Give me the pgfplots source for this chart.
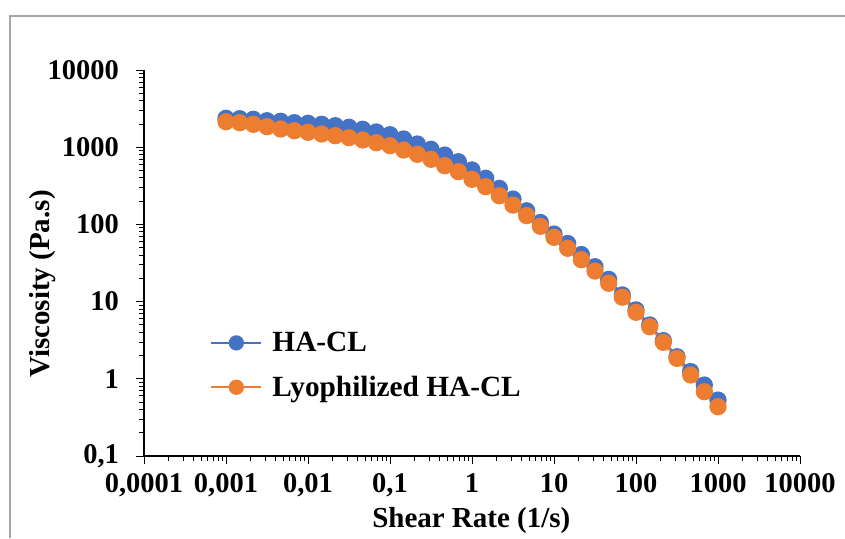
\documentclass[border=0pt]{standalone}
\usepackage{fontspec}
\setmainfont{Liberation Serif}
\usepackage{pgfplots}
\pgfplotsset{compat=1.18}
\definecolor{hablue}{HTML}{4472C4}
\definecolor{lyoorange}{HTML}{ED7D31}
\definecolor{framegray}{HTML}{A6A6A6}

\begin{document}
\begin{tikzpicture}
\begin{axis}[
  at={(144pt,82pt)}, anchor=south west,
  scale only axis, width=656pt, height=386pt,
  xmode=log, ymode=log,
  xmin=1e-4, xmax=1e4, ymin=0.1, ymax=1e4,
  axis lines*=left, axis line style={-, black, line width=1.2pt},
  tick align=outside, major tick length=8.5pt, minor tick length=5pt,
  every tick/.style={black, line width=0.9pt},
  xtick={1e-4,1e-3,0.01,0.1,1,10,100,1000,10000},
  xticklabels={{0,0001},{0,001},{0,01},{0,1},1,10,100,1000,10000},
  ytick={0.1,1,10,100,1000,10000},
  yticklabels={{0,1},1,10,100,1000,10000},
  minor xtick={2e-4,3e-4,4e-4,5e-4,6e-4,7e-4,8e-4,9e-4,
    2e-3,3e-3,4e-3,5e-3,6e-3,7e-3,8e-3,9e-3,
    0.02,0.03,0.04,0.05,0.06,0.07,0.08,0.09,
    0.2,0.3,0.4,0.5,0.6,0.7,0.8,0.9,
    2,3,4,5,6,7,8,9,
    20,30,40,50,60,70,80,90,
    200,300,400,500,600,700,800,900,
    2000,3000,4000,5000,6000,7000,8000,9000},
  minor ytick={0.2,0.3,0.4,0.5,0.6,0.7,0.8,0.9,
    2,3,4,5,6,7,8,9,
    20,30,40,50,60,70,80,90,
    200,300,400,500,600,700,800,900,
    2000,3000,4000,5000,6000,7000,8000,9000},
  tick label style={font=\fontsize{28.5}{30}\selectfont\bfseries},
  xticklabel style={yshift=-6pt},
  yticklabel style={xshift=-13pt},
  xlabel={Shear Rate (1/s)}, ylabel={Viscosity (Pa.s)},
  label style={font=\fontsize{29}{32}\selectfont\bfseries},
  xlabel style={at={(axis description cs:0.499,-0.168)}, anchor=center},
  ylabel style={at={(axis description cs:-0.155,0.4456)}, anchor=center},
  legend style={at={(rel axis cs:0.0976,0.331)}, anchor=north west,
    draw=none, fill=none, font=\fontsize{29.3}{30}\selectfont\bfseries,
    row sep=19pt, inner sep=2pt,
    /tikz/every odd column/.append style={column sep=8pt}},
  legend cell align=left,
  legend image code/.code={\draw[mark repeat=2, mark phase=2, mark size=6.5pt]
    plot coordinates {(0pt,0pt) (25pt,0pt) (50pt,0pt)};},
  clip=false,
]
\addplot[hablue, line width=2.25pt, mark=*, mark size=7.5pt] coordinates {
(0.001,2368) (0.001468,2340) (0.002154,2298) (0.003162,2204) (0.004642,2165) (0.006813,2077)
(0.01,2040) (0.01468,1980) (0.02154,1899) (0.03162,1811) (0.04642,1706) (0.06813,1574)
(0.1,1452) (0.1468,1277) (0.2154,1100) (0.3162,939) (0.4642,792) (0.6813,649)
(1,507) (1.468,396) (2.154,293) (3.162,213) (4.642,150) (6.813,105.8)
(10,75) (14.68,56.6) (21.54,40.7) (31.62,28.3) (46.42,19.4) (68.13,12.2)
(100,7.8) (146.8,4.98) (215.4,3.12) (316.2,1.93) (464.2,1.24) (681.3,0.83)
(1000,0.53)};
\addlegendentry{HA-CL}
\addplot[lyoorange, line width=2.25pt, mark=*, mark size=7.5pt] coordinates {
(0.001,2139) (0.001468,2077) (0.002154,1980) (0.003162,1843) (0.004642,1721) (0.006813,1636)
(0.01,1560) (0.01468,1483) (0.02154,1409) (0.03162,1328) (0.04642,1240) (0.06813,1144)
(0.1,1046) (0.1468,920) (0.2154,809) (0.3162,697) (0.4642,576) (0.6813,482)
(1,384) (1.468,308) (2.154,235) (3.162,178) (4.642,130) (6.813,94.5)
(10,68) (14.68,49) (21.54,34.9) (31.62,24.9) (46.42,17.3) (68.13,11.4)
(100,7.27) (146.8,4.73) (215.4,2.97) (316.2,1.84) (464.2,1.12) (681.3,0.68)
(1000,0.435)};
\addlegendentry{Lyophilized HA-CL}
\end{axis}
\draw[framegray, line width=1.2pt] (10pt,0pt) -- (10pt,522pt) -- (845pt,522pt);
\pgfresetboundingbox
\useasboundingbox (0pt,0pt) rectangle (845pt,538pt);
\end{tikzpicture}
\end{document}
